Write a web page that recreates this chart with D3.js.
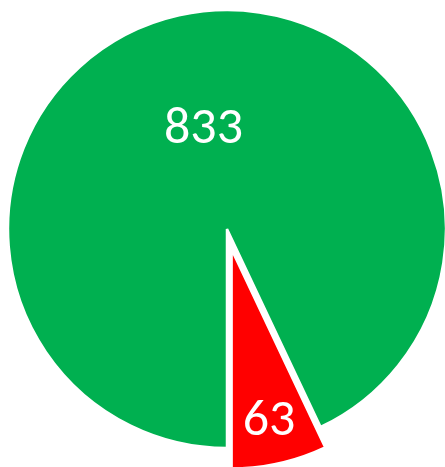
<!DOCTYPE html>
<html>
<head>
<meta charset="utf-8">
<script src="https://cdn.jsdelivr.net/npm/d3@7"></script>
<style>
  body { margin: 0; background: #fff; }
  svg { display: block; }
</style>
</head>
<body>
<div class="canvas"></div>
<script>
// chart data
const categories = ['A', 'B'];
const values = [833, 63];
const colors = ['#00B050', '#FF0000'];

const width = 445;
const height = 467;
const radius = 219;
const cx = 227, cy = 229;

const svg = d3.select('.canvas')
    .append('svg')
    .attr('width', width)
    .attr('height', height);

const graph = svg.append('g')
    .attr('transform', `translate(${cx}, ${cy})`);

const slices = categories.map((c, i) => ({ name: c, value: values[i], color: colors[i] }));

// first slice starts at the bottom (180 deg), going clockwise
const pie = d3.pie()
    .value(d => d.value)
    .sort(null)
    .startAngle(Math.PI)
    .endAngle(3 * Math.PI);

const arcs = pie(slices);

const arc = d3.arc()
    .innerRadius(0)
    .outerRadius(radius);

// explode offset for the small slice
const explode = [0, 21];
const labelPos = [0.49, 0.78];

function offset(d, i) {
    const mid = (d.startAngle + d.endAngle) / 2;
    return [Math.sin(mid) * explode[i], -Math.cos(mid) * explode[i]];
}

const groups = graph.selectAll('g.slice')
    .data(arcs)
    .enter()
    .append('g')
    .attr('class', 'slice')
    .attr('transform', (d, i) => {
        const o = offset(d, i);
        return `translate(${o[0]}, ${o[1]})`;
    });

groups.append('path')
    .attr('d', arc)
    .attr('fill', d => d.data.color)
    .attr('stroke', '#fff')
    .attr('stroke-width', 2.5)
    .attr('stroke-linejoin', 'miter');

groups.append('text')
    .attr('transform', (d, i) => {
        const r = radius * labelPos[i];
        const la = d3.arc().innerRadius(r).outerRadius(r);
        const c = la.centroid(d);
        return `translate(${c[0]}, ${c[1]})`;
    })
    .attr('text-anchor', 'middle')
    .attr('dy', '0.36em')
    .attr('fill', '#fff')
    .attr('font-family', 'Carlito, Calibri, "Open Sans", sans-serif')
    .attr('font-size', '52px')
    .text(d => d.data.value);
</script>
</body>
</html>
